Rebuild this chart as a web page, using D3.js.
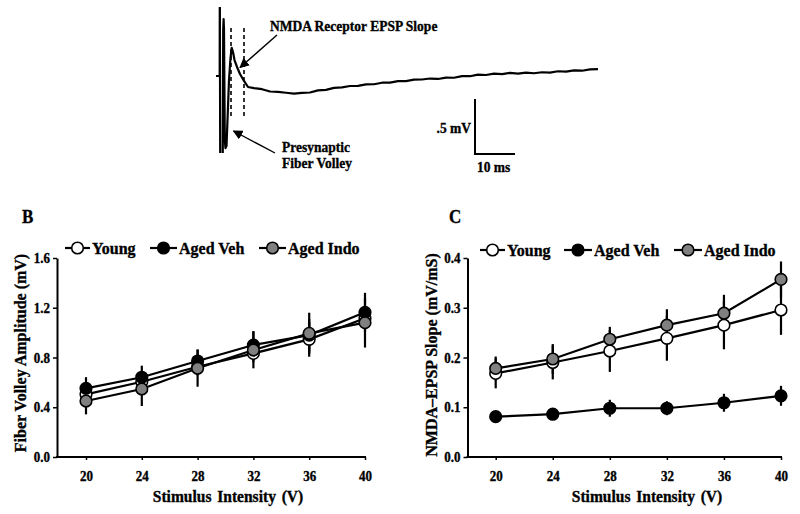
<!DOCTYPE html>
<html>
<head>
<meta charset="utf-8">
<script src="https://cdnjs.cloudflare.com/ajax/libs/d3/7.8.5/d3.min.js"></script>
<style>
html,body{margin:0;padding:0;background:#fff;}
svg{display:block;}
text{font-family:"Liberation Serif","Times New Roman",serif;font-weight:bold;fill:#000;stroke:#000;stroke-width:0.35px;}
</style>
</head>
<body>
<svg id="chart" width="800" height="514"></svg>
<script>
// ---------------- DATA ----------------
const volts = [20, 24, 28, 32, 36, 40];
const seriesNames = ["Young", "Aged Veh", "Aged Indo"];

// Panel B: Fiber Volley Amplitude (mV)
const fvYoung   = [0.504, 0.605, 0.726, 0.833, 0.946, 1.115];
const fvYoungSE = [0.06, 0.06, 0.07, 0.07, 0.14, 0.09];
const fvVeh     = [0.552, 0.641, 0.772, 0.900, 0.980, 1.163];
const fvVehSE   = [0.09, 0.093, 0.094, 0.113, 0.13, 0.157];
const fvIndo    = [0.450, 0.547, 0.713, 0.860, 0.994, 1.080];
const fvIndoSE  = [0.107, 0.137, 0.148, 0.147, 0.166, 0.20];

// Panel C: NMDA-EPSP Slope (mV/mS)
const slYoung   = [0.168, 0.190, 0.213, 0.2385, 0.265, 0.2955];
const slYoungSE = [0.030, 0.034, 0.042, 0.045, 0.0485, 0.050];
const slVeh     = [0.081, 0.086, 0.098, 0.098, 0.109, 0.123];
const slVehSE   = [0.008, 0.008, 0.017, 0.014, 0.018, 0.020];
const slIndo    = [0.178, 0.197, 0.2366, 0.265, 0.289, 0.357];
const slIndoSE  = [0.024, 0.030, 0.025, 0.032, 0.037, 0.036];

const fvTicks = [0, 0.4, 0.8, 1.2, 1.6];
const slTicks = [0, 0.1, 0.2, 0.3, 0.4];

// Panel A: example trace (time in ms, voltage in mV); stimulus artifact saturates beyond shown range
const traceT = [-0.5, 0.425, 0.45, 0.575, 1.15, 1.3, 1.4, 1.5, 1.7, 1.875, 2.125, 2.375, 2.75, 3.125, 3.425, 3.75, 4.125, 4.75, 5.5, 6.5, 7.5,
  9, 11, 13, 15, 17, 19, 21, 23, 25, 27, 29, 31, 33, 35, 37, 39, 41, 43, 45, 47, 49, 51, 53, 55, 57, 59,
  61, 63, 65, 67, 69, 71, 73, 75, 77, 79, 81, 83, 85, 87, 89, 91, 93, 95];
const traceV = [0, 0, 0.873, -1.127, -1.127, 0.418, 0.518, 0.418, -0.582, -0.655, -0.636, -0.400, -0.036, 0.164, 0.255, 0.218, 0.145, 0.082, 0.018, -0.045, -0.100,
  -0.110, -0.120, -0.141, -0.145, -0.152, -0.160, -0.154, -0.150, -0.131, -0.126, -0.108, -0.104, -0.091, -0.090, -0.076, -0.075,
  -0.061, -0.060, -0.047, -0.046, -0.033, -0.032, -0.023, -0.027, -0.015, -0.016,
  -0.001, -0.002, 0.013, 0.009, 0.021, 0.017, 0.029, 0.022, 0.031, 0.025, 0.034, 0.030, 0.043, 0.039, 0.051, 0.048, 0.060, 0.062];
const traceClip = [-0.70, 0.627];  // mV range shown
const slopeWindow = [3.25, 6.5];   // ms, dashed lines
const dashRange = [-0.382, 0.436]; // mV extent of dashed lines
const scaleBarMs = 10, scaleBarMv = 0.5;

// ---------------- DRAW ----------------
const svg = d3.select("#chart");
const defs = svg.append("defs");

// make glyphs a bit taller while keeping their width (matches the reference rendering)
function tall(sel, k = 1.08) {
  sel.each(function () {
    const w = this.getComputedTextLength();
    const fs = parseFloat(d3.select(this).attr("font-size"));
    d3.select(this).attr("font-size", fs * k).attr("textLength", w).attr("lengthAdjust", "spacingAndGlyphs");
  });
  return sel;
}

// ---- Panel A (trace) ----
const tx = d3.scaleLinear().domain([0, 10]).range([218, 258]);
const tv = d3.scaleLinear().domain([0, 0.5]).range([76, 21]);
const trace = traceT.map((t, i) => [t, traceV[i]]);
defs.append("clipPath").attr("id", "traceClip").append("rect")
  .attr("x", 0).attr("width", 800).attr("y", tv(traceClip[1])).attr("height", tv(traceClip[0]) - tv(traceClip[1]));
const gA = svg.append("g");
gA.append("path")
  .attr("clip-path", "url(#traceClip)")
  .attr("d", d3.line().x(d => tx(d[0])).y(d => tv(d[1]))(trace))
  .attr("fill", "none").attr("stroke", "#000").attr("stroke-width", 2.2).attr("stroke-linejoin", "round");
slopeWindow.forEach(t => {
  gA.append("line").attr("x1", tx(t)).attr("x2", tx(t)).attr("y1", tv(dashRange[1])).attr("y2", tv(dashRange[0]))
    .attr("stroke", "#000").attr("stroke-width", 1.6).attr("stroke-dasharray", "4,3");
});
defs.append("marker").attr("id", "arr").attr("viewBox", "0 0 10 10").attr("refX", 9).attr("refY", 5)
  .attr("markerWidth", 7).attr("markerHeight", 7).attr("orient", "auto")
  .append("path").attr("d", "M0,0 L10,5 L0,10 z").attr("fill", "#000");
gA.append("line").attr("x1", 277).attr("y1", 35).attr("x2", 240).attr("y2", 67.5)
  .attr("stroke", "#000").attr("stroke-width", 1.4).attr("marker-end", "url(#arr)");
gA.append("line").attr("x1", 275).attr("y1", 153).attr("x2", 233.5).attr("y2", 131)
  .attr("stroke", "#000").attr("stroke-width", 1.4).attr("marker-end", "url(#arr)");
tall(gA.append("text").attr("x", 270).attr("y", 31).attr("font-size", 13.5).text("NMDA Receptor EPSP Slope"));
tall(gA.append("text").attr("x", 282).attr("y", 152).attr("font-size", 13.5).text("Presynaptic"));
tall(gA.append("text").attr("x", 282).attr("y", 168).attr("font-size", 13.5).text("Fiber Volley"));
// scale bar
const sbX = 475, sbY = 154;
const sbH = tv(0) - tv(scaleBarMv), sbW = tx(scaleBarMs) - tx(0);
gA.append("path").attr("d", `M${sbX},${sbY - sbH}V${sbY}H${sbX + sbW}`)
  .attr("fill", "none").attr("stroke", "#000").attr("stroke-width", 2);
tall(gA.append("text").attr("x", sbX - 4).attr("y", 133).attr("text-anchor", "end").attr("font-size", 13.5).text(".5 mV"));
tall(gA.append("text").attr("x", sbX + 2).attr("y", 172).attr("font-size", 13.5).text(scaleBarMs + " ms"));

// ---- Line panels ----
const fills = ["#ffffff", "#000000", "#808080"];

function panel(opts) {
  const g = svg.append("g");
  const x = d3.scaleLinear().domain([20, 40]).range(opts.xRange);
  const y = d3.scaleLinear().domain([0, opts.yMax]).range([457, 258]);

  // axes
  const yAxis = g.append("g").attr("transform", `translate(${opts.axisX},0)`)
    .call(d3.axisLeft(y).tickValues(opts.ticks).tickFormat(d3.format(".1f")).tickSize(4).tickSizeOuter(0));
  yAxis.select(".domain").attr("stroke-width", 2);
  yAxis.selectAll(".tick line").attr("stroke-width", 1.5);
  tall(yAxis.selectAll(".tick text").attr("font-size", 13).attr("font-family", "Liberation Serif, Times New Roman, serif")
    .attr("font-weight", "bold").attr("x", -7));

  const xAxis = g.append("g").attr("transform", `translate(0,${y(0)})`)
    .call(d3.axisBottom(x).tickValues(volts).tickFormat(d3.format("d")).tickSize(3).tickSizeOuter(0));
  xAxis.select(".domain").remove();
  xAxis.selectAll(".tick line").attr("stroke-width", 1.5);
  tall(xAxis.selectAll(".tick text").attr("font-size", 13).attr("font-family", "Liberation Serif, Times New Roman, serif")
    .attr("font-weight", "bold").attr("dy", "0").attr("y", 24));
  g.append("line").attr("x1", opts.axisX - 1).attr("x2", x(40) + 1).attr("y1", y(0)).attr("y2", y(0))
    .attr("stroke", "#000").attr("stroke-width", 2);

  // titles
  tall(g.append("text").attr("x", opts.xTitleX).attr("y", 502).attr("text-anchor", "middle").attr("font-size", 15.5)
    .attr("word-spacing", 2).text("Stimulus Intensity (V)"));
  tall(g.append("text").attr("transform", `translate(${opts.yTitleX},${opts.yTitleY}) rotate(-90)`)
    .attr("text-anchor", "middle").attr("font-size", 16).text(opts.yTitle));
  tall(g.append("text").attr("x", opts.labelX).attr("y", 223).attr("font-size", 17).text(opts.label));

  const series = opts.series;
  // error bars
  series.forEach(s => {
    volts.forEach((v, i) => {
      g.append("line").attr("x1", x(v)).attr("x2", x(v))
        .attr("y1", y(s.vals[i] + s.se[i])).attr("y2", y(s.vals[i] - s.se[i]))
        .attr("stroke", "#000").attr("stroke-width", 2.2);
    });
  });
  // lines
  const line = d3.line().x((d, i) => x(volts[i])).y(d => y(d));
  series.forEach(s => {
    g.append("path").attr("d", line(s.vals)).attr("fill", "none").attr("stroke", "#000").attr("stroke-width", 2.2);
  });
  // markers
  series.forEach((s, k) => {
    g.selectAll(null).data(s.vals).enter().append("circle")
      .attr("cx", (d, i) => x(volts[i])).attr("cy", d => y(d)).attr("r", 5.8)
      .attr("fill", fills[k]).attr("stroke", "#000").attr("stroke-width", 1.6);
  });

  // legend
  opts.legend.forEach((L, k) => {
    g.append("line").attr("x1", L.x0).attr("x2", L.x1).attr("y1", opts.legendY).attr("y2", opts.legendY)
      .attr("stroke", "#000").attr("stroke-width", 2.2);
    g.append("circle").attr("cx", (L.x0 + L.x1) / 2).attr("cy", opts.legendY).attr("r", 5.8)
      .attr("fill", fills[k]).attr("stroke", "#000").attr("stroke-width", 1.6);
    tall(g.append("text").attr("x", L.x1 + 2).attr("y", opts.legendY + 5.5).attr("font-size", 16).text(seriesNames[k]));
  });
}

panel({
  xRange: [86, 365], axisX: 57, yMax: 1.6, ticks: fvTicks,
  yTitle: "Fiber Volley Amplitude (mV)", yTitleX: 26, yTitleY: 353, xTitleX: 228,
  label: "B", labelX: 22, legendY: 248,
  series: [
    {vals: fvYoung, se: fvYoungSE},
    {vals: fvVeh, se: fvVehSE},
    {vals: fvIndo, se: fvIndoSE}
  ],
  legend: [{x0: 65, x1: 90}, {x0: 150, x1: 177}, {x0: 259, x1: 286}]
});

panel({
  xRange: [495.7, 781], axisX: 467.5, yMax: 0.4, ticks: slTicks,
  yTitle: "NMDA–EPSP Slope (mV/mS)", yTitleX: 437, yTitleY: 355, xTitleX: 647,
  label: "C", labelX: 449, legendY: 250,
  series: [
    {vals: slYoung, se: slYoungSE},
    {vals: slVeh, se: slVehSE},
    {vals: slIndo, se: slIndoSE}
  ],
  legend: [{x0: 480, x1: 505}, {x0: 564, x1: 592}, {x0: 674, x1: 702}]
});
</script>
</body>
</html>
